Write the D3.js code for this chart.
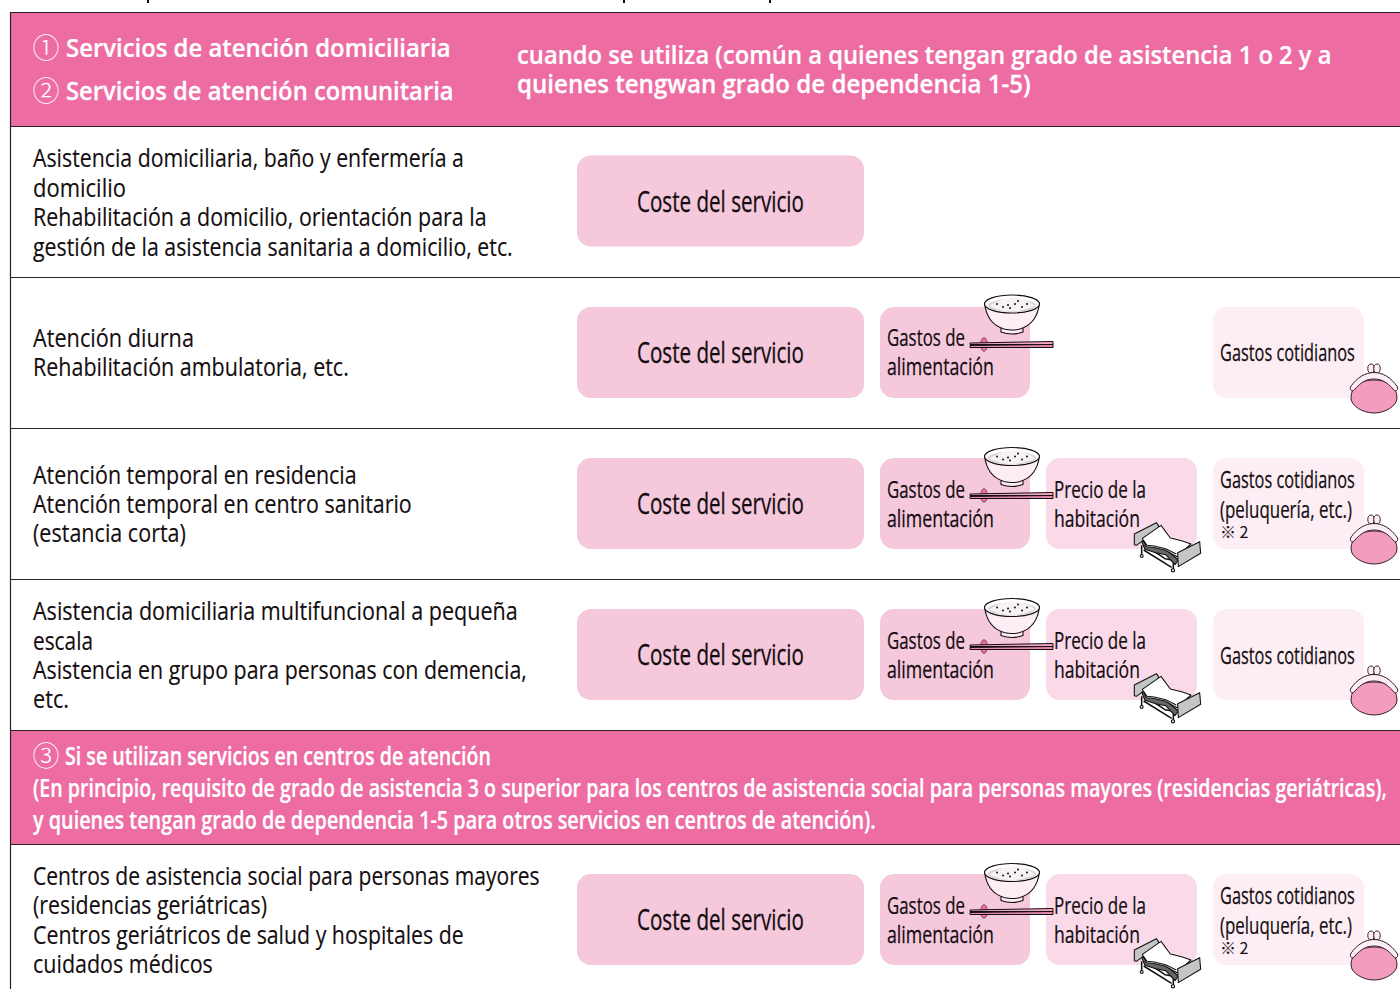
<!DOCTYPE html>
<html lang="es">
<head>
<meta charset="utf-8">
<script src="https://cdn.jsdelivr.net/npm/d3@7"></script>
<style>
html,body{margin:0;padding:0;background:#fff;overflow:hidden}
svg{display:block}
text{font-family:"Open Sans","Noto Sans",sans-serif}
</style>
</head>
<body>
<svg id="chart" width="1400" height="989"></svg>
<script>
// ---------- content ----------
const columns = ["servicio", "alimentacion", "habitacion", "cotidianos"];
const rowNames = ["domicilio", "diurna", "temporal", "multifuncional", "centros"];

const rowLines = [
  ["Asistencia domiciliaria, baño y enfermería a", "domicilio", "Rehabilitación a domicilio, orientación para la", "gestión de la asistencia sanitaria a domicilio, etc."],
  ["Atención diurna", "Rehabilitación ambulatoria, etc."],
  ["Atención temporal en residencia", "Atención temporal en centro sanitario", "(estancia corta)"],
  ["Asistencia domiciliaria multifuncional a pequeña", "escala", "Asistencia en grupo para personas con demencia,", "etc."],
  ["Centros de asistencia social para personas mayores", "(residencias geriátricas)", "Centros geriátricos de salud y hospitales de", "cuidados médicos"]
];
const rowCells = [
  ["servicio"],
  ["servicio", "alimentacion", "cotidianos"],
  ["servicio", "alimentacion", "habitacion", "cotidianosNota"],
  ["servicio", "alimentacion", "habitacion", "cotidianos"],
  ["servicio", "alimentacion", "habitacion", "cotidianosNota"]
];
const costeLabel = ["Coste del servicio"];
const alimentacionLabel = ["Gastos de", "alimentación"];
const habitacionLabel = ["Precio de la", "habitación"];
const cotidianosLabel = ["Gastos cotidianos"];
const cotidianosNotaLabel = ["Gastos cotidianos", "(peluquería, etc.)"];
const notaLabel = "※ 2";

const headerLeft = ["Servicios de atención domiciliaria", "Servicios de atención comunitaria"];
const headerMarks = ["①", "②"];
const headerRight = ["cuando se utiliza (común a quienes tengan grado de asistencia 1 o 2 y a", "quienes tengwan grado de dependencia 1-5)"];
const section3Mark = "③";
const section3Lines = [
  "Si se utilizan servicios en centros de atención",
  "(En principio, requisito de grado de asistencia 3 o superior para los centros de asistencia social para personas mayores (residencias geriátricas),",
  "y quienes tengan grado de dependencia 1-5 para otros servicios en centros de atención)."
];

// ---------- layout ----------
const svg = d3.select("#chart");
const rowTop = d3.scaleOrdinal(rowNames, [126, 277, 428, 579, 844]);
const colX = d3.scaleOrdinal(columns, [577, 880, 1046, 1213]);
const colW = d3.scaleOrdinal(columns, [287, 150, 151, 151]);
const boxTopOffset = d3.scaleOrdinal(rowNames, [29.5, 30, 30, 30, 30]);
const labelShift = d3.scaleOrdinal(rowNames, [0, 0, 1, 1, 1]);
const rowBaselines = [[167, 197, 226, 256], [347, 376], [484, 513, 542], [620, 650, 679, 708], [885, 914, 944, 973]];
const rowWidths = [[431, 93, 454, 480], [161, 316], [324, 379, 153], [485, 60, 494, 36], [507, 234, 431, 180]];

const C = {band: "#ed6da3", coste: "#f5c8dc", comida: "#f5c8dc", hab: "#fadae8", cot: "#fdedf4", ink: "#140d10", rule: "#2a2226"};

// Draws a line of text squeezed horizontally to the width it has in the reference
function fitText(sel, str, x, y, w, size, o = {}) {
  const t = sel.append("text")
    .attr("font-size", size)
    .attr("font-weight", o.weight || 400)
    .attr("fill", o.fill || C.ink)
    .attr("stroke", o.fill || C.ink).attr("stroke-width", o.stroke === undefined ? .15 : o.stroke)
    .text(str);
  const natural = t.node().getComputedTextLength();
  t.attr("transform", `translate(${x},${y}) scale(${w / natural},1)`);
  return t;
}

// ---------- bands ----------
svg.append("rect").attr("x", 11).attr("y", 13).attr("width", 1389).attr("height", 113).attr("fill", C.band);
svg.append("rect").attr("x", 11).attr("y", 731).attr("width", 1389).attr("height", 113).attr("fill", C.band);

const mark = (s, x, y) => svg.append("text").attr("x", x).attr("y", y).attr("font-size", 27)
  .attr("fill", "#fff").style("font-family", '"Noto Sans CJK JP"').attr("font-weight", 300).text(s);

headerMarks.forEach((m, i) => mark(m, 32.5, [58, 101][i]));
headerLeft.forEach((t, i) => fitText(svg, t, 66, [57, 100][i], [385, 388][i], 24.5, {weight: 600, fill: "#fff", stroke: .25}));
headerRight.forEach((t, i) => fitText(svg, t, 517, [64, 93][i], [815, 514][i], 24.5, {weight: 600, fill: "#fff", stroke: .25}));
mark(section3Mark, 32.5, 766);
section3Lines.forEach((t, i) => fitText(svg, t, i ? 33 : 65, [765, 797, 829][i], [426, 1354, 843][i], 25, {weight: 600, fill: "#fff", stroke: .25}));

// ---------- rules ----------
const rules = [126, 277, 428, 579, 730, 844];
svg.selectAll("line.r").data(rules).join("line").attr("class", "r")
  .attr("x1", 10).attr("x2", 1400).attr("y1", d => d + .5).attr("y2", d => d + .5)
  .attr("stroke", C.rule).attr("stroke-width", 1.2);
svg.append("line").attr("x1", 10).attr("x2", 1400).attr("y1", 12.5).attr("y2", 12.5).attr("stroke", C.rule).attr("stroke-width", 1.2);
svg.append("line").attr("x1", 10.5).attr("x2", 10.5).attr("y1", 12).attr("y2", 989).attr("stroke", C.rule).attr("stroke-width", 1.2);
// descenders of the cropped line above the table
[148, 624, 770].forEach(x => svg.append("rect").attr("x", x - 1).attr("y", 0).attr("width", 2).attr("height", 3).attr("fill", C.ink));

// ---------- icons ----------
function bowl(g, x, y) {
  const b = g.append("g").attr("transform", `translate(${x},${y})`).attr("stroke", "#140d10").attr("stroke-width", 1.1);
  b.append("path").attr("d", "M-11,21 L-11,28 Q0,32 11,28 L11,21 Z").attr("fill", "#fdedf4");
  b.append("path").attr("d", "M-27.5,-1 Q-25,20 -8,25 Q0,27 8,25 Q25,20 27.5,-1 Z").attr("fill", "#fdedf4");
  b.append("ellipse").attr("rx", 27.5).attr("ry", 9).attr("fill", "#fff");
  b.append("ellipse").attr("cy", 1.5).attr("rx", 24).attr("ry", 6.5).attr("fill", "#d9d2d5").attr("stroke", "none");
  b.append("path").attr("d", "M-23,2 Q-10,-6 0,-6 Q14,-6 23,2 Q10,7.5 0,7.5 Q-12,7.5 -23,2Z").attr("fill", "#f7f2f4").attr("stroke", "none");
  [[-15, 0], [-9, 3], [-2, 4], [3, 0], [6, -3], [10, 3], [15, 0], [-4, 1]].forEach(p =>
    b.append("circle").attr("cx", p[0]).attr("cy", p[1]).attr("r", 1).attr("fill", "#111").attr("stroke", "none"));
}
function chopsticks(g, x, y) {
  const c = g.append("g").attr("transform", `translate(${x},${y})`);
  c.append("ellipse").attr("cx", 14).attr("cy", 0).attr("rx", 3.4).attr("ry", 6.8).attr("fill", "#ed6da3").attr("stroke", "#6b3550").attr("stroke-width", .8);
  c.append("path").attr("d", "M0,-1.5 L83,-3 L83,0 L0,0Z").attr("fill", "#f1a6c6").attr("stroke", "#140d10").attr("stroke-width", 1);
  c.append("path").attr("d", "M0,1 L83,0 L83,3 L0,3Z").attr("fill", "#e58bb0").attr("stroke", "#140d10").attr("stroke-width", 1);
}
function purse(g, x, y) {
  const p = g.append("g").attr("transform", `translate(${x},${y})`).attr("stroke", "#33202a").attr("stroke-width", 1);
  p.append("ellipse").attr("cx", -3).attr("cy", -26.5).attr("rx", 3.2).attr("ry", 4.5).attr("fill", "#fdedf4");
  p.append("ellipse").attr("cx", 3).attr("cy", -26.5).attr("rx", 3.2).attr("ry", 4.5).attr("fill", "#fdedf4");
  p.append("path").attr("d", "M-23,3 C-23,-10 -12,-15 0,-15 C12,-15 23,-10 23,3 C23,11 11,18 0,18 C-11,18 -23,11 -23,3Z").attr("fill", "#f29cc0");
  p.append("path").attr("d", "M-23.5,-8 C-17,-18 -8,-22.5 0,-22.5 C8,-22.5 17,-18 23.5,-8 C24.5,-4 21,-3 19,-6 C13,-13 7,-16 0,-16 C-7,-16 -13,-13 -19,-6 C-21,-3 -24.5,-4 -23.5,-8Z").attr("fill", "#fdedf4");
}
function bed(g, x, y) {
  const b = g.append("g").attr("transform", `translate(${x},${y}) scale(.3333)`).attr("stroke", "#111").attr("stroke-width", 3.2).attr("stroke-linejoin", "round").attr("fill", "none");
  b.append("path").attr("d", "M28,72 L94,38 L100,46 L100,60 L34,106 L28,104Z").attr("fill", "#c4c6c4");
  b.append("path").attr("d", "M50,106 L50,140 M145,150 L145,182 M56,120 L140,172 M62,108 L120,146 L155,152").attr("stroke-width", 4.5);
  b.append("circle").attr("cx", 50).attr("cy", 138).attr("r", 4.5).attr("fill", "#ddd");
  b.append("circle").attr("cx", 144).attr("cy", 181).attr("r", 5).attr("fill", "#ddd");
  b.append("path").attr("d", "M50,94 L60,118 L92,128 L122,134 L150,164 L160,150 L122,118 L88,110 L62,92Z").attr("fill", "#666");
  b.append("path").attr("d", "M52,85 L108,46 L136,84 L170,92 L198,102 L156,140 L120,120 L84,112 L64,110Z").attr("fill", "#fff");
  b.append("path").attr("d", "M56,92 L66,106 L88,108 L122,116 L154,132");
  b.append("path").attr("d", "M158,128 L224,95 L227,130 L160,170Z").attr("fill", "#c4c6c4");
}

// ---------- rows ----------
rowNames.forEach((name, r) => {
  const g = svg.append("g").attr("data-row", name);
  rowLines[r].forEach((t, i) => fitText(g, t, 33, rowBaselines[r][i], rowWidths[r][i], 25));

  const top = rowTop(name) + boxTopOffset(name);
  const s = labelShift(name);
  const h = 91;
  const cells = rowCells[r];
  const base = cells.map(c => c.replace("Nota", ""));

  g.selectAll("rect.cell").data(base).join("rect").attr("class", "cell")
    .attr("x", d => colX(d)).attr("y", top).attr("width", d => colW(d)).attr("height", h)
    .attr("rx", 14).attr("ry", 14)
    .attr("fill", d => ({servicio: C.coste, alimentacion: C.comida, habitacion: C.hab, cotidianos: C.cot})[d]);

  cells.forEach(c => {
    if (c === "servicio") {
      fitText(g, costeLabel[0], 637, top + 56, 167, 30, {stroke: .3});
    } else if (c === "alimentacion") {
      fitText(g, alimentacionLabel[0], 887, top + 39 + s, 78, 24, {stroke: .25});
      fitText(g, alimentacionLabel[1], 887, top + 68 + s, 107, 24, {stroke: .25});
    } else if (c === "habitacion") {
      fitText(g, habitacionLabel[0], 1054, top + 39 + s, 92, 24, {stroke: .25});
      fitText(g, habitacionLabel[1], 1054, top + 68 + s, 86, 24, {stroke: .25});
    } else if (c === "cotidianos") {
      fitText(g, cotidianosLabel[0], 1220, top + 54 + s, 135, 24, {stroke: .25});
    } else if (c === "cotidianosNota") {
      fitText(g, cotidianosNotaLabel[0], 1220, top + 29 + s, 135, 24, {stroke: .25});
      fitText(g, cotidianosNotaLabel[1], 1220, top + 59 + s, 132, 24, {stroke: .25});
      g.append("text").attr("x", 1220).attr("y", top + 80).attr("font-size", 16).attr("fill", C.ink)
        .style("font-family", '"Noto Sans CJK JP"').text(notaLabel);
    }
  });
  // Icons sit on top of the labels
  cells.forEach(c => {
    if (c === "alimentacion") { chopsticks(g, 970, top + 37.5); bowl(g, 1012, top - 3 + s * 1.5); }
    if (c === "habitacion") { bed(g, 1125, top + 52); }
    if (c.startsWith("cotidianos")) { purse(g, 1374, top + 88); }
  });
});
</script>
</body>
</html>
